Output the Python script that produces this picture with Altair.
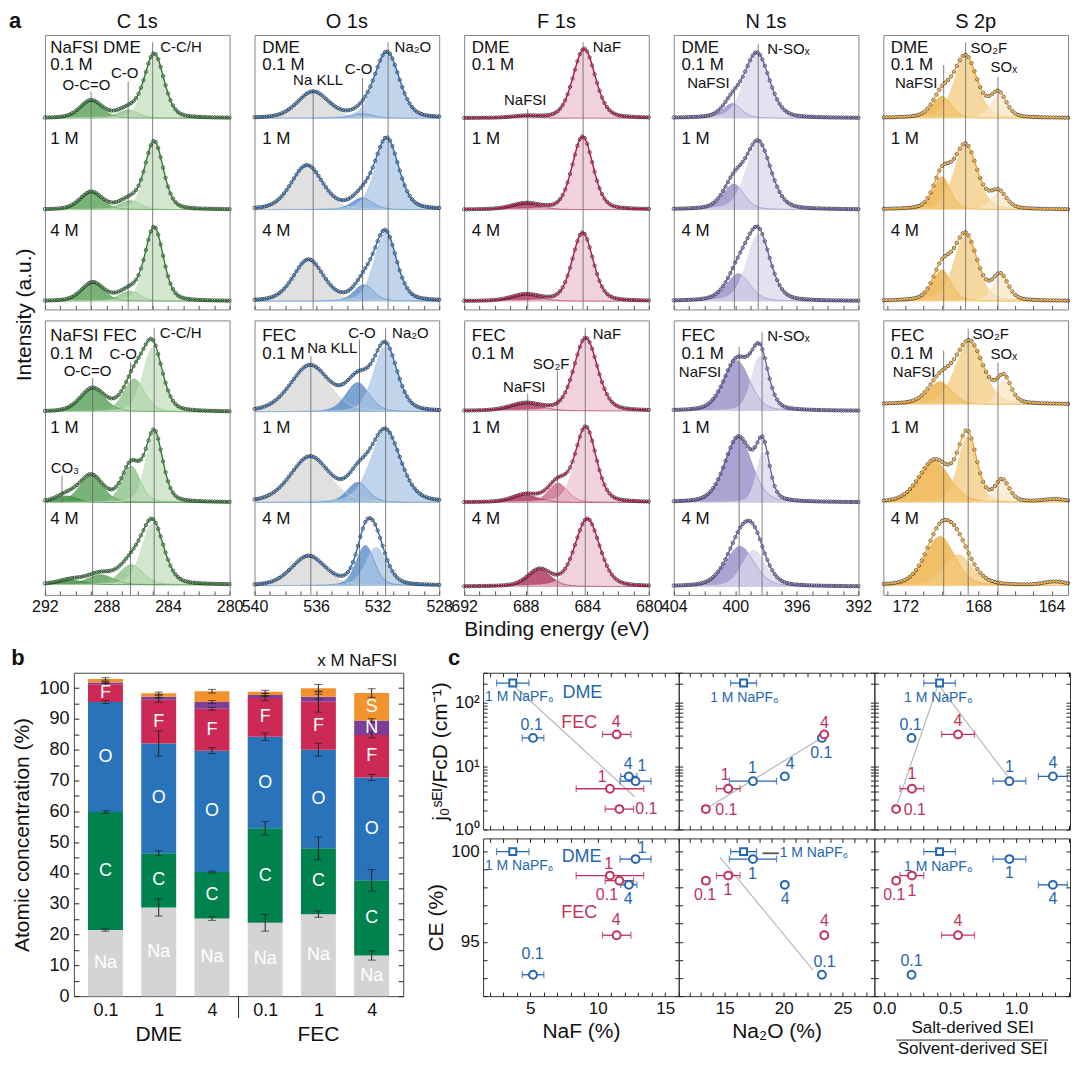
import numpy as np
import pandas as pd
import altair as alt

FONT = "Liberation Sans"

# ============================ panel a : XPS peak fits ============================
CORE = ["C 1s", "O 1s", "F 1s", "N 1s", "S 2p"]
EV_HIGH = [292.0, 540.0, 692.0, 404.0, 173.2]
EV_LOW = [280.0, 528.0, 680.0, 392.0, 163.1]
TAG_EV = [291.65, 539.5, 691.5, 403.5, 172.8]
TAG_DME = ["NaFSI DME", "DME", "DME", "DME", "DME"]
TAG_FEC = ["NaFSI FEC", "FEC", "FEC", "FEC", "FEC"]
CONC_TAGS = ["0.1 M", "1 M", "4 M"]
TAG_Y_DME = [2.771, 2.578, 1.774, 0.767]
TAG_Y_FEC = [2.739, 2.543, 1.731, 0.738]
BASE_DME = [2.0, 1.0, 0.0]
BASE_FEC = [[1.91, 0.92, 0.02], [1.91, 0.92, 0.01], [1.92, 0.92, 0.0],
            [1.92, 0.92, 0.0], [1.99, 0.92, 0.01]]

# fitted components: (row, component, centre eV, height, FWHM eV)
C1S_DME = [(0, "O-C=O", 289.0, 0.19, 1.7), (0, "C-O", 286.6, 0.09, 1.6), (0, "C-C/H", 284.9, 0.70, 1.5),
           (1, "O-C=O", 289.0, 0.19, 1.7), (1, "C-O", 286.5, 0.10, 1.6), (1, "C-C/H", 284.9, 0.74, 1.4),
           (2, "O-C=O", 288.9, 0.20, 1.7), (2, "C-O", 286.5, 0.11, 1.6), (2, "C-C/H", 284.9, 0.80, 1.4)]
C1S_FEC = [(0, "O-C=O", 288.9, 0.25, 1.9), (0, "C-O", 286.2, 0.36, 1.6), (0, "C-C/H", 285.0, 0.70, 1.5),
           (1, "CO3", 290.6, 0.07, 1.6), (1, "O-C=O", 289.0, 0.29, 1.8), (1, "C-O", 286.4, 0.40, 1.4),
           (1, "C-C/H", 284.9, 0.76, 1.3),
           (2, "CO3", 290.3, 0.05, 2.0), (2, "O-C=O", 288.4, 0.11, 2.0), (2, "C-O", 286.4, 0.22, 1.8),
           (2, "C-C/H", 285.0, 0.67, 1.7)]
O1S_DME = [(0, "Na KLL", 536.2, 0.285, 2.4), (0, "C-O", 533.0, 0.05, 1.6), (0, "Na2O", 531.4, 0.72, 1.9),
           (1, "Na KLL", 536.6, 0.48, 2.4), (1, "C-O", 533.0, 0.13, 1.6), (1, "Na2O", 531.4, 0.77, 1.8),
           (2, "Na KLL", 536.5, 0.45, 2.3), (2, "C-O", 532.9, 0.18, 1.5), (2, "Na2O", 531.5, 0.75, 1.7)]
O1S_FEC = [(0, "Na KLL", 536.4, 0.50, 3.0), (0, "C-O", 533.3, 0.32, 1.8), (0, "Na2O", 531.5, 0.72, 1.8),
           (1, "Na KLL", 536.4, 0.49, 3.0), (1, "C-O", 533.3, 0.22, 1.6), (1, "Na2O", 531.5, 0.78, 2.3),
           (2, "Na KLL", 536.5, 0.32, 2.6), (2, "C-O", 532.8, 0.44, 1.4), (2, "Na2O", 532.1, 0.42, 1.6)]
F1S_DME = [(0, "NaFSI", 688.0, 0.02, 2.0), (0, "NaF", 684.2, 0.76, 1.7),
           (1, "NaFSI", 688.0, 0.065, 2.2), (1, "NaF", 684.3, 0.80, 1.6),
           (2, "NaFSI", 688.0, 0.07, 2.2), (2, "NaF", 684.3, 0.75, 1.6)]
F1S_FEC = [(0, "NaFSI", 688.0, 0.08, 2.4), (0, "NaF", 684.1, 0.80, 1.8),
           (1, "NaFSI", 688.0, 0.08, 2.0), (1, "SO2F", 685.9, 0.21, 1.5), (1, "NaF", 684.1, 0.82, 1.6),
           (2, "NaFSI", 687.1, 0.18, 1.8), (2, "NaF", 684.0, 0.74, 1.9)]
N1S_DME = [(0, "NaFSI", 400.2, 0.16, 1.4), (0, "N-SOx", 398.6, 0.71, 1.9),
           (1, "NaFSI", 400.1, 0.28, 1.6), (1, "N-SOx", 398.5, 0.73, 1.9),
           (2, "NaFSI", 399.8, 0.30, 1.8), (2, "N-SOx", 398.5, 0.73, 1.8)]
N1S_FEC = [(0, "NaFSI", 399.9, 0.55, 2.0), (0, "N-SOx", 398.4, 0.60, 1.3),
           (1, "NaFSI", 399.8, 0.71, 2.1), (1, "N-SOx", 398.2, 0.55, 1.0),
           (2, "NaFSI", 399.7, 0.44, 2.2), (2, "N-SOx", 398.8, 0.40, 1.8)]
S2P_DME = [(0, "NaFSI", 170.0, 0.24, 1.2), (0, "SO2F", 168.7, 0.67, 1.5), (0, "SOx", 166.9, 0.26, 1.0),
           (1, "NaFSI", 170.0, 0.36, 1.1), (1, "SO2F", 168.7, 0.70, 1.5), (1, "SOx", 166.9, 0.18, 1.0),
           (2, "NaFSI", 170.0, 0.34, 1.2), (2, "SO2F", 168.7, 0.72, 1.5), (2, "SOx", 166.8, 0.27, 1.0)]
S2P_FEC = [(0, "NaFSI", 170.1, 0.25, 1.5), (0, "SO2F", 168.5, 0.68, 1.8), (0, "SOx", 166.6, 0.27, 0.9),
           (1, "NaFSI", 170.4, 0.45, 2.0), (1, "SO2F", 168.6, 0.72, 1.2), (1, "SOx", 166.7, 0.23, 0.9),
           (1, "other", 163.8, 0.03, 1.5),
           (2, "NaFSI", 170.1, 0.54, 1.9), (2, "SO2F", 169.1, 0.34, 1.8), (2, "other", 163.8, 0.04, 1.5)]

# peak labels (text, eV, y) and guide lines (eV, top[, bottom])
C1S_DME_PEAKS = [("O-C=O", 289.3, 2.364), ("C-O", 286.82, 2.489), ("C-C/H", 283.16, 2.78)]
C1S_FEC_PEAKS = [("O-C=O", 289.23, 2.356), ("C-O", 286.91, 2.543), ("C-C/H", 283.18, 2.774), ("CO₃", 290.7, 1.30)]
C1S_DME_LINES = [(289.0, 2.29), (286.59, 2.40), (285.0, 2.83)]
C1S_FEC_LINES = [(288.9, 2.28), (286.44, 2.45), (284.9, 2.83), (290.89, 1.21, 0.92)]
O1S_DME_PEAKS = [("Na KLL", 535.87, 2.417), ("C-O", 533.24, 2.543), ("Na₂O", 529.71, 2.774)]
O1S_DME_LINES = [(536.19, 2.31), (532.98, 2.44), (531.32, 2.83)]
O1S_FEC_PEAKS = [("Na KLL", 534.95, 2.613), ("C-O", 533.02, 2.774), ("Na₂O", 529.87, 2.774)]
O1S_FEC_LINES = [(536.34, 2.52), (533.18, 2.70), (531.48, 2.83)]
F1S_DME_PEAKS = [("NaFSI", 688.03, 2.203), ("NaF", 682.72, 2.774)]
F1S_DME_LINES = [(687.87, 2.10), (684.27, 2.83)]
F1S_FEC_PEAKS = [("NaFSI", 688.09, 2.185), ("SO₂F", 686.35, 2.435), ("NaF", 682.72, 2.757)]
F1S_FEC_LINES = [(687.87, 2.11), (685.94, 2.36), (684.13, 2.83)]
N1S_DME_PEAKS = [("NaFSI", 401.75, 2.382), ("N-SOₓ", 396.55, 2.757)]
N1S_DME_LINES = [(400.06, 2.31), (398.51, 2.81)]
N1S_FEC_PEAKS = [("NaFSI", 402.29, 2.35), ("N-SOₓ", 396.55, 2.739)]
N1S_FEC_LINES = [(399.75, 2.62), (398.26, 2.78)]
S2P_DME_PEAKS = [("NaFSI", 171.41, 2.382), ("SO₂F", 167.43, 2.768), ("SOₓ", 166.61, 2.554)]
S2P_DME_LINES = [(169.9, 2.58), (168.7, 2.83), (166.93, 2.45)]
S2P_FEC_PEAKS = [("NaFSI", 171.52, 2.345), ("SO₂F", 167.33, 2.757), ("SOₓ", 166.61, 2.543)]
S2P_FEC_LINES = [(169.9, 2.58), (168.56, 2.82), (166.93, 2.45)]

FITS_DME = [C1S_DME, O1S_DME, F1S_DME, N1S_DME, S2P_DME]
FITS_FEC = [C1S_FEC, O1S_FEC, F1S_FEC, N1S_FEC, S2P_FEC]
PEAKS_DME = [C1S_DME_PEAKS, O1S_DME_PEAKS, F1S_DME_PEAKS, N1S_DME_PEAKS, S2P_DME_PEAKS]
PEAKS_FEC = [C1S_FEC_PEAKS, O1S_FEC_PEAKS, F1S_FEC_PEAKS, N1S_FEC_PEAKS, S2P_FEC_PEAKS]
LINES_DME = [C1S_DME_LINES, O1S_DME_LINES, F1S_DME_LINES, N1S_DME_LINES, S2P_DME_LINES]
LINES_FEC = [C1S_FEC_LINES, O1S_FEC_LINES, F1S_FEC_LINES, N1S_FEC_LINES, S2P_FEC_LINES]

FILL = [
    {"C-C/H": "#c3dfbe", "C-O": "#86bd80", "O-C=O": "#4d994a", "CO3": "#2f7d32"},
    {"Na KLL": "#d6d6d6", "C-O": "#4d85c5", "Na2O": "#abc7e6"},
    {"NaF": "#ecc3d3", "SO2F": "#c95f7f", "NaFSI": "#a5224f"},
    {"N-SOx": "#dbd7ec", "NaFSI": "#8e85c3"},
    {"SO2F": "#f3c97d", "NaFSI": "#eca935", "SOx": "#f9e7c4", "other": "#f5d9a0"},
]
FIT_LINE = ["#2e7d32", "#2a6bb3", "#b8154b", "#6b5eae", "#efa12a"]

Y_LO, Y_HI = -0.09, 2.91
WA, HA, GAP_A = 185, 275, 11


def pv(x, c, h, w, eta=0.3):
    u = (x - c) / w
    return h * ((1 - eta) * np.exp(-4 * np.log(2) * u * u) + eta / (1 + 4 * u * u))


def xps_panel(j, fits, bases, lines, peaks, tag, tag_y, bottom, title=None, extra=()):
    lo, hi = EV_LOW[j], EV_HIGH[j]
    grid = np.round(np.arange(lo, hi + 1e-9, 0.08), 3)
    comp, envs, pts = [], [], []
    for r in range(3):
        env = np.zeros_like(grid)
        for k, (row, name, c, h, w) in enumerate(fits):
            if row != r:
                continue
            p = pv(grid, c, h, w)
            env = env + p
            comp.append(pd.DataFrame({"e": grid, "lo": bases[r], "hi": np.round(bases[r] + p, 4),
                                      "comp": name, "key": f"{r}{k:02d}"}))
        envs.append(pd.DataFrame({"e": grid, "y": np.round(bases[r] + env, 4), "sp": r}))
        pts.append(pd.DataFrame({"e": grid[::2], "y": np.round(bases[r] + env[::2], 4)}))
    comp_df, env_df, pt_df = pd.concat(comp), pd.concat(envs), pd.concat(pts)
    line_df = pd.DataFrame([{"e": l[0], "top": l[1], "bot": (l[2] if len(l) > 2 else Y_LO)} for l in lines])
    peak_df = pd.DataFrame(peaks, columns=["t", "e", "y"])
    tag_df = pd.DataFrame({"t": [tag] + CONC_TAGS, "e": TAG_EV[j], "y": tag_y})

    xs = alt.Scale(domain=[lo, hi], reverse=True, nice=False, zero=False)
    ys = alt.Scale(domain=[Y_LO, Y_HI], nice=False, zero=False)
    ticks = list(range(int(np.ceil(lo)), int(np.floor(hi)) + 1))
    xaxis = alt.Axis(values=ticks, labels=bottom, labelExpr="datum.value % 4 == 0 ? datum.label : ''",
                     tickSize=4, offset=-4, domain=False, grid=False, tickColor="#555",
                     labelFontSize=16, labelPadding=4, labelFlush=False, labelOverlap=False,
                     labelColor="#111", title=("Binding energy (eV)" if (bottom and j == 2) else None),
                     titleFontSize=21, titleFontWeight="normal", titlePadding=4, titleColor="#111")
    X = alt.X("e:Q", scale=xs, axis=None)
    area = alt.Chart(comp_df).mark_area(opacity=0.75, line={"strokeWidth": 0.6}).encode(
        x=alt.X("e:Q", scale=xs, axis=xaxis),
        y=alt.Y("hi:Q", scale=ys, axis=None, stack=None), y2="lo:Q",
        color=alt.Color("comp:N", scale=alt.Scale(domain=list(FILL[j].keys()),
                                                  range=list(FILL[j].values())), legend=None),
        detail="key:N")
    rule = alt.Chart(line_df).mark_rule(color="#6f6f6f", strokeWidth=0.9).encode(
        x=X, y=alt.Y("top:Q", scale=ys, axis=None), y2="bot:Q")
    dots = alt.Chart(pt_df).mark_point(shape="circle", size=11, filled=False, color="#1c1c1c",
                                       strokeWidth=0.7, opacity=1).encode(
        x=X, y=alt.Y("y:Q", scale=ys, axis=None))
    fit = alt.Chart(env_df).mark_line(color=FIT_LINE[j], strokeWidth=1.4).encode(
        x=X, y=alt.Y("y:Q", scale=ys, axis=None), detail="sp:N")
    tags = alt.Chart(tag_df).mark_text(align="left", baseline="middle", fontSize=17, color="#111").encode(
        x=X, y=alt.Y("y:Q", scale=ys, axis=None), text="t:N")
    plab = alt.Chart(peak_df).mark_text(align="center", baseline="middle", fontSize=15, color="#111").encode(
        x=X, y=alt.Y("y:Q", scale=ys, axis=None), text="t:N")
    ch = alt.layer(area, rule, dots, fit, tags, plab, *extra).resolve_axis(
        x="independent", y="independent").properties(width=WA, height=HA)
    if title:
        ch = ch.properties(title=alt.TitleParams(title, fontSize=20, fontWeight="normal", offset=3,
                                                 color="#111", frame="group"))
    return ch


letter_a = alt.Chart(pd.DataFrame({"t": ["a"]})).mark_text(
    fontSize=22, fontWeight="bold", align="center", baseline="middle", color="#111").encode(
    x=alt.value(-30), y=alt.value(-(HA + GAP_A) - 14), text="t:N")
intensity = alt.Chart(pd.DataFrame({"t": ["Intensity (a.u.)"]})).mark_text(
    fontSize=21, angle=270, align="center", baseline="middle", color="#111").encode(
    x=alt.value(-20), y=alt.value((2 * HA + GAP_A) / 2), text="t:N")

tops, bots = [], []
for j in range(5):
    tops.append(xps_panel(j, FITS_DME[j], BASE_DME, LINES_DME[j], PEAKS_DME[j], TAG_DME[j], TAG_Y_DME,
                          False, CORE[j], (intensity,) if j == 0 else ()))
    bots.append(xps_panel(j, FITS_FEC[j], BASE_FEC[j], LINES_FEC[j], PEAKS_FEC[j], TAG_FEC[j], TAG_Y_FEC,
                          True, None, (letter_a,) if j == 0 else ()))
top_grid = alt.concat(*(tops + bots), columns=5, spacing={"row": GAP_A, "column": 25},
                      bounds="flush").resolve_scale(color="independent")

# ============================ panel b : atomic concentration ============================
B_POS = [1, 2, 3, 4, 5, 6]
B_TICKS = ["0.1", "1", "4", "0.1", "1", "4"]
B_SOLVENTS = ["DME", "FEC"]
B_SOLVENT_POS = [2, 5]
ELEM = ["Na", "C", "O", "F", "N", "S"]
AT_NA = [21.5, 28.8, 25.2, 23.8, 26.6, 13.2]
AT_C = [38.3, 17.6, 15.1, 30.7, 21.4, 24.4]
AT_O = [35.7, 35.6, 39.4, 29.7, 32.0, 33.4]
AT_F = [5.8, 14.2, 13.6, 12.6, 15.6, 13.8]
AT_N = [0.5, 1.0, 2.2, 1.0, 1.6, 4.7]
AT_S = [1.2, 1.1, 3.5, 1.0, 2.8, 8.9]
ER_NA = [0.4, 2.8, 0.6, 2.7, 1.0, 1.5]
ER_C = [0.4, 0.8, 0.3, 2.2, 3.7, 3.5]
ER_O = [0.5, 4.1, 1.0, 1.2, 2.1, 1.0]
ER_F = [0.6, 0.8, 0.5, 0.8, 3.4, 0.9]
ER_N = [0.3, 0.5, 0.5, 0.5, 0.8, 0.6]
ER_S = [0.4, 0.4, 0.6, 0.5, 1.2, 1.4]
ELEM_COLORS = ["#d4d4d4", "#00824f", "#2873b9", "#cc2a55", "#7b3f98", "#f2922f"]

WB, HB = 330, 324
rows = []
for i in range(6):
    b0 = 0.0
    for el, vals, errs in zip(ELEM, [AT_NA, AT_C, AT_O, AT_F, AT_N, AT_S],
                              [ER_NA, ER_C, ER_O, ER_F, ER_N, ER_S]):
        v = vals[i]
        t0 = b0 + v
        rows.append({"x": B_POS[i], "el": el, "bot": b0, "top": t0, "mid": (b0 + t0) / 2,
                     "lo": t0 - errs[i], "hi": t0 + errs[i], "v": v})
        b0 = t0
bdf = pd.DataFrame(rows)
bcaps = pd.concat([bdf.assign(yc=bdf["lo"]), bdf.assign(yc=bdf["hi"])])
blab = bdf[bdf["v"] > 4]

bx = alt.Scale(domain=[0.5, 6.5], nice=False, zero=False)
by = alt.Scale(domain=[0, 105], nice=False, zero=False)
common_ax = dict(domain=False, grid=False, tickColor="#222", labelColor="#111", labelFlush=False,
                 labelOverlap=False, titleFontWeight="normal", titleColor="#111")
bxaxis = alt.Axis(values=B_POS, labelExpr=f"{B_TICKS}[datum.value - 1]", tickSize=4, offset=-4,
                  labelFontSize=18, labelPadding=5, title=None, **common_ax)
byaxis = alt.Axis(values=list(range(0, 101, 5)), labelExpr="datum.value % 10 == 0 ? datum.label : ''",
                  tickSize=5, offset=-5, labelFontSize=18, labelPadding=5,
                  title="Atomic concentration (%)", titleFontSize=21, titlePadding=6, **common_ax)
byaxis_r = alt.Axis(orient="right", values=list(range(0, 101, 5)), labels=False, tickSize=5, offset=-5,
                    title=None, **common_ax)
BX = alt.X("x:Q", scale=bx, axis=None)

bars = alt.Chart(bdf).mark_bar(size=35).encode(
    x=alt.X("x:Q", scale=bx, axis=bxaxis),
    y=alt.Y("top:Q", scale=by, axis=byaxis, stack=None), y2="bot:Q",
    color=alt.Color("el:N", scale=alt.Scale(domain=ELEM, range=ELEM_COLORS), legend=None))
bmirror = alt.Chart(bdf).mark_point(opacity=0).encode(
    x=BX, y=alt.Y("top:Q", scale=by, axis=byaxis_r))
berr = alt.Chart(bdf).mark_rule(color="#222", strokeWidth=1).encode(
    x=BX, y=alt.Y("lo:Q", scale=by, axis=None), y2="hi:Q")
bcap = alt.Chart(bcaps).mark_tick(color="#222", thickness=1, size=8, orient="horizontal").encode(
    x=BX, y=alt.Y("yc:Q", scale=by, axis=None))
btxt = alt.Chart(blab).mark_text(color="white", fontSize=18, baseline="middle").encode(
    x=BX, y=alt.Y("mid:Q", scale=by, axis=None), text="el:N")
bsep = alt.Chart(pd.DataFrame({"x": [3.5]})).mark_rule(color="#222", strokeWidth=1).encode(
    x=BX, y=alt.value(HB), y2=alt.value(HB + 22))
bsolv = alt.Chart(pd.DataFrame({"x": B_SOLVENT_POS, "t": B_SOLVENTS})).mark_text(
    fontSize=21, baseline="middle", color="#111").encode(x=BX, y=alt.value(HB + 39), text="t:N")
letter_b = alt.Chart(pd.DataFrame({"t": ["b"]})).mark_text(
    fontSize=22, fontWeight="bold", align="center", baseline="middle", color="#111").encode(
    x=alt.value(-56), y=alt.value(-15), text="t:N")
b_note = alt.Chart(pd.DataFrame({"t": ["x M NaFSI"]})).mark_text(
    fontSize=17, align="right", baseline="middle", color="#111").encode(
    x=alt.value(WB - 6), y=alt.value(-12), text="t:N")
panel_b = alt.layer(bars, bmirror, berr, bcap, btxt, bsep, bsolv, letter_b, b_note).resolve_axis(
    x="independent", y="independent").properties(
    width=WB, height=HB, view=alt.ViewBackground(stroke="#444"))

# ============================ panel c : correlations ============================
C_KIND = ["NaPF6", "NaFSI", "NaFSI", "NaFSI", "NaFSI", "NaFSI", "NaFSI"]
C_SOLV = ["DME", "DME", "DME", "DME", "FEC", "FEC", "FEC"]
NAF = [3.7, 5.2, 12.8, 12.3, 11.6, 10.9, 11.4]
NAF_ERR = [1.2, 0.8, 1.15, 0.6, 1.05, 2.5, 1.05]
NA2O = [16.6, 23.25, 17.4, 20.1, 13.4, 15.3, 23.45]
NA2O_ERR = [1.1, 0.0, 2.0, 0.25, 0.3, 1.0, 0.25]
RATIO = [0.42, 0.207, 0.95, 1.28, 0.09, 0.21, 0.56]
RATIO_ERR = [0.12, 0.0, 0.125, 0.11, 0.0, 0.09, 0.125]
J0 = [206, 28, 5.8, 6.9, 2.1, 4.4, 31.8]
CE = [99.97, 93.18, 99.56, 98.14, 98.37, 98.65, 95.36]

TREND_J_NAF = ([3.9, 12.75], [177, 3.26])
TREND_J_NA2O = ([13.6, 23.06], [2.23, 26.8])
TREND_J_RATIO = ([0.10, 0.41, 0.934], [2.57, 195, 7.0])
TREND_CE_NA2O = ([14.58, 22.5], [99.68, 93.44])
LEADER_CE_NA2O = ([18.2, 19.6], [99.88, 99.88])

LAB_J_NAF = [("0.1", 5.1, 44, "DME"), ("4", 11.36, 49.6, "FEC"), ("4", 12.26, 11.0, "DME"),
             ("1", 13.28, 10.0, "DME"), ("1", 10.32, 6.8, "FEC"), ("0.1", 13.6, 2.1, "FEC")]
LAB_CE_NAF = [("1", 13.28, 100.18, "DME"), ("1", 10.8, 99.29, "FEC"), ("0.1", 10.68, 97.57, "FEC"),
              ("4", 12.26, 97.34, "DME"), ("4", 11.36, 96.22, "FEC"), ("0.1", 5.17, 94.33, "DME")]
LAB_J_NA2O = [("4", 23.47, 48.6, "FEC"), ("0.1", 23.2, 16.1, "DME"), ("1", 17.36, 9.46, "DME"),
              ("4", 20.56, 10.9, "DME"), ("1", 15.05, 7.3, "FEC"), ("0.1", 15.14, 2.02, "FEC")]
LAB_CE_NA2O = [("1", 17.36, 98.72, "DME"), ("1", 15.28, 97.87, "FEC"), ("0.1", 13.33, 97.57, "FEC"),
               ("4", 20.14, 97.38, "DME"), ("4", 23.47, 96.14, "FEC"), ("0.1", 23.47, 93.88, "DME")]
LAB_J_RATIO = [("0.1", 0.20, 45.3, "DME"), ("4", 0.56, 50.9, "FEC"), ("1", 0.21, 7.46, "FEC"),
               ("0.1", 0.232, 2.02, "FEC"), ("1", 0.95, 9.8, "DME"), ("4", 1.28, 11.1, "DME")]
LAB_CE_RATIO = [("1", 0.95, 98.77, "DME"), ("4", 1.28, 97.34, "DME"), ("1", 0.21, 97.79, "FEC"),
                ("0.1", 0.076, 97.57, "FEC"), ("4", 0.56, 96.14, "FEC"), ("0.1", 0.207, 93.92, "DME")]
HEAD_J_NAF = [("DME", 8.86, 144, "DME"), ("FEC", 8.62, 48.6, "FEC")]
HEAD_CE_NAF = [("DME", 8.8, 99.65, "DME"), ("FEC", 8.62, 96.6, "FEC")]
NAPF6_LABEL = "1 M NaPF₆"
NAPF6_POS = {"J_NAF": (4.18, 125), "CE_NAF": (4.17, 99.2), "J_NA2O": (16.67, 118),
             "CE_NA2O": (22.57, 99.88), "J_RATIO": (0.41, 118), "CE_RATIO": (0.41, 99.15)}

J_TICKS = [1, 2, 3, 4, 5, 6, 7, 8, 9, 10, 20, 30, 40, 50, 60, 70, 80, 90, 100, 200, 300]
J_EXPR = "datum.value == 1 ? '10⁰' : datum.value == 10 ? '10¹' : datum.value == 100 ? '10²' : ''"
CE_TICKS = list(range(92, 101))
CE_EXPR = "datum.value % 5 == 0 ? datum.label : ''"
NAF_TICKS = list(range(2, 17))
NA2O_TICKS = list(range(12, 28))
RATIO_TICKS = [round(0.1 * i, 1) for i in range(0, 15)]
P5_EXPR = "datum.value % 5 == 0 ? datum.label : ''"
RATIO_EXPR = "round(datum.value * 10) % 5 == 0 ? format(datum.value, '.1f') : ''"

BLUE, RED = "#2467b0", "#c1335d"
CS = alt.Scale(domain=["DME", "FEC"], range=[BLUE, RED])
WC, HC_T, HC_B = 196, 157, 158


def caxis(orient, values, expr, labels, title, **kw):
    d = dict(orient=orient, values=values, labels=labels, tickSize=4, offset=-4, domain=False, grid=False,
             tickColor="#222", labelFontSize=17, labelColor="#111", labelPadding=4, labelFlush=False,
             labelOverlap=False, titleFontSize=21, titleFontWeight="normal", titleColor="#111",
             title=title)
    if expr:
        d["labelExpr"] = expr
    d.update(kw)
    return alt.Axis(**d)


def c_panel(xv, xe, xs, xticks, xexpr, yv, ys, yticks, yexpr, h, xlab, ylab, xtitle, ytitle,
            labels, napf6, heads=(), trend=None, leader=None, extra=(), xkw=None):
    df = pd.DataFrame({"x": xv, "xe": xe, "y": yv, "solv": C_SOLV, "kind": C_KIND})
    e = df[df["xe"] > 0].copy()
    e["lo"] = e["x"] - e["xe"]
    e["hi"] = e["x"] + e["xe"]
    caps = pd.concat([e.assign(xc=e["lo"]), e.assign(xc=e["hi"])])
    X = alt.X("x:Q", scale=xs, axis=None)
    Y = alt.Y("y:Q", scale=ys, axis=None)
    L = [
        alt.Chart(df).mark_point(opacity=0).encode(
            x=alt.X("x:Q", scale=xs, axis=caxis("bottom", xticks, xexpr, xlab, xtitle, **(xkw or {}))),
            y=alt.Y("y:Q", scale=ys, axis=caxis("left", yticks, yexpr, ylab, ytitle))),
        alt.Chart(df).mark_point(opacity=0).encode(
            x=alt.X("x:Q", scale=xs, axis=caxis("top", xticks, None, False, None)),
            y=alt.Y("y:Q", scale=ys, axis=caxis("right", yticks, None, False, None))),
    ]
    if trend is not None:
        L.append(alt.Chart(pd.DataFrame({"x": trend[0], "y": trend[1], "o": range(len(trend[0]))}))
                 .mark_line(color="#b8b8b8", strokeWidth=1.2).encode(x=X, y=Y, order="o:Q"))
    if leader is not None:
        L.append(alt.Chart(pd.DataFrame({"x": leader[0], "y": leader[1]}))
                 .mark_line(color="#555", strokeWidth=1.8).encode(x=X, y=Y))
    L += [
        alt.Chart(e).mark_rule(strokeWidth=1.3).encode(
            x=alt.X("lo:Q", scale=xs, axis=None), x2="hi:Q", y=Y,
            color=alt.Color("solv:N", scale=CS, legend=None)),
        alt.Chart(caps).mark_tick(thickness=1.3, size=7, orient="vertical").encode(
            x=alt.X("xc:Q", scale=xs, axis=None), y=Y,
            color=alt.Color("solv:N", scale=CS, legend=None)),
        alt.Chart(df[df["kind"] == "NaFSI"]).mark_point(
            shape="circle", size=62, filled=True, fill="white", strokeWidth=2, opacity=1).encode(
            x=X, y=Y, stroke=alt.Stroke("solv:N", scale=CS, legend=None)),
        alt.Chart(df[df["kind"] == "NaPF6"]).mark_point(
            shape="square", size=48, filled=True, fill="white", strokeWidth=2, opacity=1).encode(
            x=X, y=Y, stroke=alt.Stroke("solv:N", scale=CS, legend=None)),
        alt.Chart(pd.DataFrame(labels, columns=["t", "x", "y", "solv"])).mark_text(
            fontSize=16, baseline="middle").encode(
            x=X, y=Y, text="t:N", color=alt.Color("solv:N", scale=CS, legend=None)),
        alt.Chart(pd.DataFrame({"t": [NAPF6_LABEL], "x": [napf6[0]], "y": [napf6[1]]})).mark_text(
            fontSize=14, baseline="middle", color=BLUE).encode(x=X, y=Y, text="t:N"),
    ]
    if heads:
        L.append(alt.Chart(pd.DataFrame(heads, columns=["t", "x", "y", "solv"])).mark_text(
            fontSize=18, baseline="middle").encode(
            x=X, y=Y, text="t:N", color=alt.Color("solv:N", scale=CS, legend=None)))
    L += list(extra)
    return alt.layer(*L).resolve_axis(x="independent", y="independent").properties(
        width=WC, height=h, view=alt.ViewBackground(stroke="#333"))


s_naf = alt.Scale(domain=[1.5, 16], nice=False, zero=False)
s_na2o = alt.Scale(domain=[11.1, 27.7], nice=False, zero=False)
s_ratio = alt.Scale(domain=[-0.075, 1.41], nice=False, zero=False)
s_j = alt.Scale(type="log", domain=[1, 300], nice=False)
s_ce = alt.Scale(domain=[92, 100.7], nice=False, zero=False)

letter_c = alt.Chart(pd.DataFrame({"t": ["c"]})).mark_text(
    fontSize=22, fontWeight="bold", align="center", baseline="middle", color="#111").encode(
    x=alt.value(-29), y=alt.value(-15), text="t:N")
frac_bar = alt.Chart(pd.DataFrame({"v": [0]})).mark_rule(color="#222", strokeWidth=1).encode(
    x=alt.value(22), x2=alt.value(WC - 22), y=alt.value(HC_B + 44))

c11 = c_panel(NAF, NAF_ERR, s_naf, NAF_TICKS, P5_EXPR, J0, s_j, J_TICKS, J_EXPR, HC_T, False, True,
              None, "j₀ˢᴱᴵ/FcD (cm⁻¹)", LAB_J_NAF, NAPF6_POS["J_NAF"], HEAD_J_NAF, TREND_J_NAF,
              extra=(letter_c,))
c12 = c_panel(NA2O, NA2O_ERR, s_na2o, NA2O_TICKS, P5_EXPR, J0, s_j, J_TICKS, J_EXPR, HC_T, False, False,
              None, None, LAB_J_NA2O, NAPF6_POS["J_NA2O"], (), TREND_J_NA2O)
c13 = c_panel(RATIO, RATIO_ERR, s_ratio, RATIO_TICKS, RATIO_EXPR, J0, s_j, J_TICKS, J_EXPR, HC_T, False,
              False, None, None, LAB_J_RATIO, NAPF6_POS["J_RATIO"], (), TREND_J_RATIO)
c21 = c_panel(NAF, NAF_ERR, s_naf, NAF_TICKS, P5_EXPR, CE, s_ce, CE_TICKS, CE_EXPR, HC_B, True, True,
              "NaF (%)", "CE (%)", LAB_CE_NAF, NAPF6_POS["CE_NAF"], HEAD_CE_NAF)
c22 = c_panel(NA2O, NA2O_ERR, s_na2o, NA2O_TICKS, P5_EXPR, CE, s_ce, CE_TICKS, CE_EXPR, HC_B, True, False,
              "Na₂O (%)", None, LAB_CE_NA2O, NAPF6_POS["CE_NA2O"], (), TREND_CE_NA2O, LEADER_CE_NA2O)
c23 = c_panel(RATIO, RATIO_ERR, s_ratio, RATIO_TICKS, RATIO_EXPR, CE, s_ce, CE_TICKS, CE_EXPR, HC_B, True,
              False, ["Salt-derived SEI", "Solvent-derived SEI"], None, LAB_CE_RATIO,
              NAPF6_POS["CE_RATIO"], extra=(frac_bar,),
              xkw=dict(titleFontSize=17, titleLineHeight=21, titlePadding=3))

c_grid = alt.concat(c11, c12, c13, c21, c22, c23, columns=3, spacing={"row": 9, "column": 0},
                    bounds="flush").resolve_scale(color="independent", stroke="independent")

spacer = alt.Chart(pd.DataFrame({"v": [0]})).mark_point(opacity=0, size=0).encode(
    x=alt.value(0), y=alt.value(0)).properties(width=1, height=1,
                                               view=alt.ViewBackground(stroke="transparent"))
b_block = alt.hconcat(spacer, panel_b, spacing=-37).resolve_scale(color="independent")
bottom_block = alt.hconcat(b_block, c_grid, spacing=21).resolve_scale(
    color="independent", stroke="independent")

chart = alt.vconcat(top_grid, bottom_block, spacing=5).resolve_scale(
    color="independent", stroke="independent").properties(
    padding=0).configure(font=FONT).configure_view(stroke="#858585", strokeWidth=1)

chart.save("out.html", embed_options={"renderer": "svg", "actions": False})
